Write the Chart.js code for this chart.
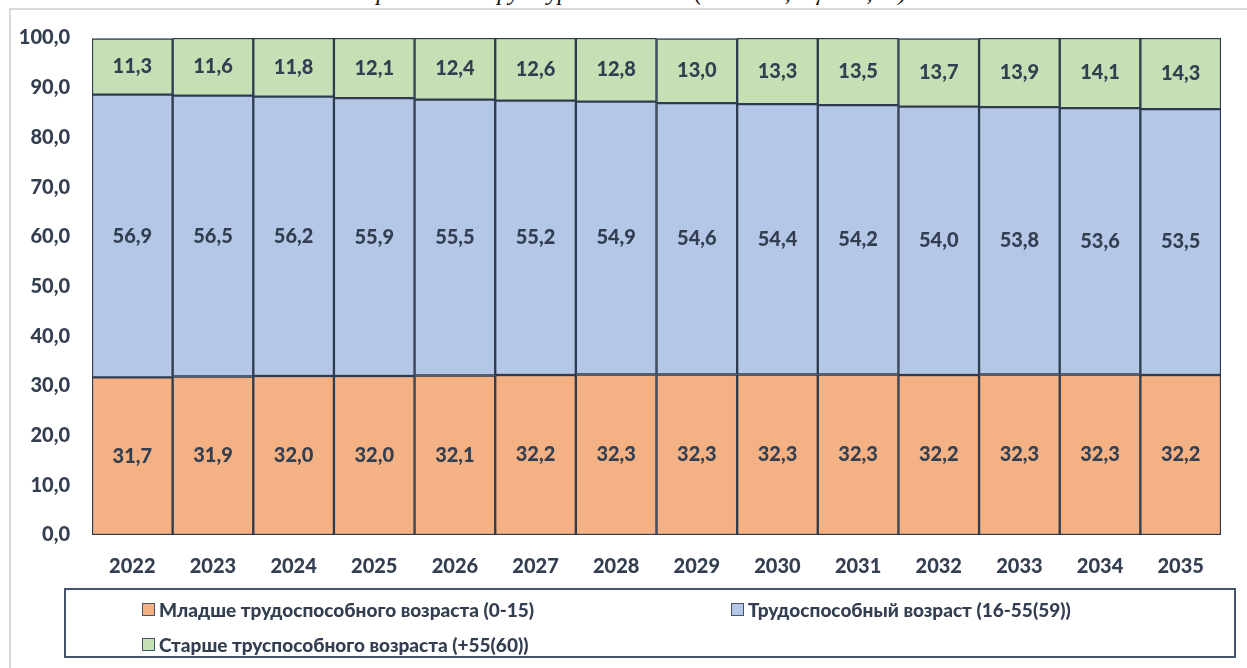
<!DOCTYPE html>
<html lang="ru">
<head>
    <meta charset="UTF-8">
    <title>Возрастная структура населения</title>
    <script src="https://cdn.jsdelivr.net/npm/chart.js"></script>
    <style>
        body { margin: 0; background: white; font-family: 'Lato', sans-serif; }
        .wrap { position: relative; width: 1247px; height: 668px; overflow: hidden; }
        .frame-top { position: absolute; left: 10px; top: 8px; width: 1237px; height: 2px; background: #d9d9d9; }
        .frame-left { position: absolute; left: 9px; top: 8px; width: 2px; height: 660px; background: #d9d9d9; }
        .title { position: absolute; left: 0; width: 1247px; top: -21px; text-align: center;
                 font: italic 24px 'Liberation Serif', serif; color: #111; }
        #chartBox { position: absolute; left: 0; top: 0; width: 1247px; height: 668px; }
        .legend { position: absolute; left: 64px; top: 588px; width: 1172px; height: 70px;
                  border: 2px solid #44546a; box-sizing: border-box; }
        .legend-item { position: absolute; display: flex; align-items: center;
                       font-weight: 900; font-size: 19px; color: #333f50; white-space: nowrap; }
        .legend-item span.box { width: 13px; height: 13px; border: 1.5px solid #44546a; margin-right: 4px; box-sizing: border-box; }
    </style>
</head>
<body>
<div class="wrap">
    <div class="title">Возрастная структура населения (тыс.чел, оценка, %)</div>
    <div class="frame-top"></div>
    <div class="frame-left"></div>
    <div id="chartBox"><canvas id="chart"></canvas></div>
    <div class="legend" id="legend"></div>
</div>
<script>
    const years = ['2022','2023','2024','2025','2026','2027','2028','2029','2030','2031','2032','2033','2034','2035'];
    const young = [31.7, 31.9, 32.0, 32.0, 32.1, 32.2, 32.3, 32.3, 32.3, 32.3, 32.2, 32.3, 32.3, 32.2];
    const working = [56.9, 56.5, 56.2, 55.9, 55.5, 55.2, 54.9, 54.6, 54.4, 54.2, 54.0, 53.8, 53.6, 53.5];
    const older = [11.3, 11.6, 11.8, 12.1, 12.4, 12.6, 12.8, 13.0, 13.3, 13.5, 13.7, 13.9, 14.1, 14.3];
    const seriesNames = ['Младше трудоспособного возраста (0-15)', 'Трудоспособный возраст (16-55(59))', 'Старше труспособного возраста (+55(60))'];
    const seriesColors = ['#f4b183', '#b4c7e7', '#c5e0b4'];

    const textColor = '#333f50';
    const fmt = v => v.toFixed(1).replace('.', ',');
    const boldFont = { family: 'Lato', weight: 900, size: 20 };

    // values written in the middle of every segment
    const valueLabels = {
        id: 'valueLabels',
        afterDatasetsDraw(chart) {
            const ctx = chart.ctx;
            ctx.save();
            ctx.font = '900 20px Lato';
            ctx.fillStyle = textColor;
            ctx.textAlign = 'center';
            ctx.textBaseline = 'middle';
            chart.data.datasets.forEach((ds, i) => {
                chart.getDatasetMeta(i).data.forEach((bar, j) => {
                    const mid = (bar.y + bar.base) / 2;
                    ctx.fillText(fmt(ds.data[j]), bar.x, mid);
                });
            });
            ctx.restore();
        }
    };

    const datasets = [young, working, older].map((d, i) => ({
        label: seriesNames[i],
        data: d,
        backgroundColor: seriesColors[i],
        borderColor: '#2f3b4e',
        borderWidth: 1.5,
        borderSkipped: false,
        categoryPercentage: 1.0,
        barPercentage: 1.0
    }));

    new Chart(document.getElementById('chart'), {
        type: 'bar',
        data: { labels: years, datasets },
        plugins: [valueLabels],
        options: {
            responsive: true,
            maintainAspectRatio: false,
            animation: false,
            layout: { padding: { top: 38, right: 26, bottom: 53, left: 0 } },
            plugins: { legend: { display: false }, tooltip: { enabled: false } },
            scales: {
                x: {
                    stacked: true,
                    grid: { display: false, drawTicks: false },
                    border: { display: false },
                    ticks: { color: textColor, font: boldFont, padding: 20 },
                    afterFit: s => { s.height = 80; }
                },
                y: {
                    stacked: true,
                    min: 0, max: 100,
                    grid: { display: false, drawTicks: false },
                    border: { display: false },
                    ticks: {
                        stepSize: 10,
                        color: textColor,
                        font: boldFont,
                        padding: 22,
                        callback: v => fmt(v)
                    },
                    afterFit: s => { s.width = 92; }
                }
            }
        }
    });

    // legend laid out like the original: two items on the first row, one on the second
    const legendPos = [[76, 8], [665, 8], [76, 43]];
    const legend = document.getElementById('legend');
    seriesNames.forEach((name, i) => {
        const item = document.createElement('div');
        item.className = 'legend-item';
        item.style.left = legendPos[i][0] + 'px';
        item.style.top = legendPos[i][1] + 'px';
        item.innerHTML = `<span class="box" style="background:${seriesColors[i]}"></span>${name}`;
        legend.appendChild(item);
    });
</script>
</body>
</html>
